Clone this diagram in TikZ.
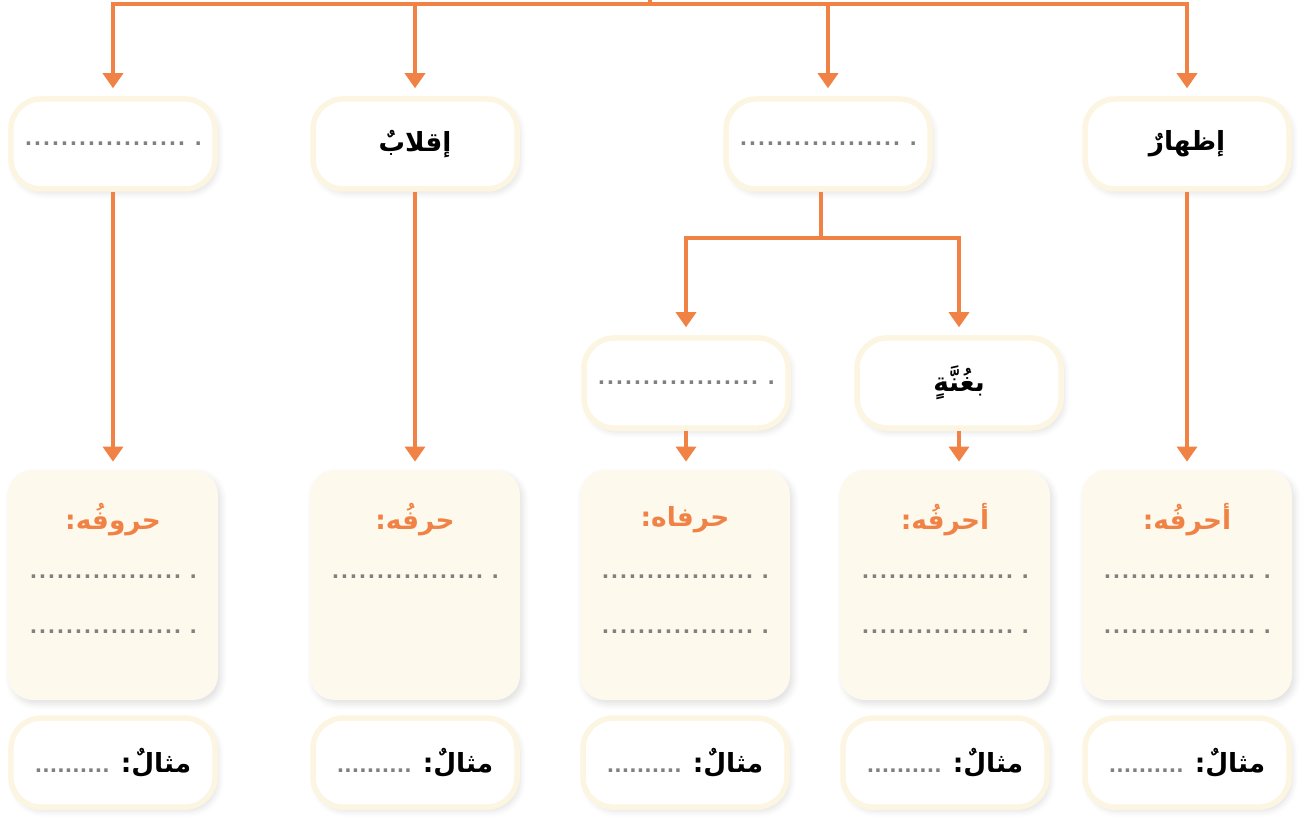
\documentclass[tikz,border=0pt]{standalone}
\usepackage{fontspec}
\newfontfamily\arabicfont[Script=Arabic]{DejaVu Sans}
\TeXXeTstate=1
\usetikzlibrary{positioning,arrows.meta,shadows.blur}
\definecolor{branchOrange}{RGB}{240,130,70}
\definecolor{creamLine}{RGB}{252,245,226}
\definecolor{creamFill}{RGB}{253,249,237}
\definecolor{dotGray}{RGB}{128,128,128}
\newcommand{\ar}[1]{\arabicfont\bfseries\beginR #1\endR}
\newcommand{\dotline}[1]{\hbox to #1{{\color{dotGray}\leaders\hbox to 1.8mm{\hss.\hss}\hfill\hskip 1.5mm.}}}
\newcommand{\shortdots}[1]{\hbox to #1{{\color{dotGray}\leaders\hbox to 1.5mm{\hss.\hss}\hfill}}}
\tikzset{
  conn/.style={draw=branchOrange, line width=1.9pt},
  arr/.style={conn, -{Triangle[width=4mm,length=3mm]}, shorten >=1.6mm},
  type box/.style={draw=creamLine, line width=1.1mm, fill=white, rounded corners=6mm,
    minimum width=40.8mm, minimum height=18mm,
    blur shadow={shadow xshift=0.6mm, shadow yshift=-0.8mm, shadow blur radius=1.2mm, shadow opacity=12}},
  letters box/.style={fill=creamFill, rounded corners=5mm, minimum width=42mm, minimum height=46mm,
    blur shadow={shadow xshift=0.6mm, shadow yshift=-0.8mm, shadow blur radius=1.2mm, shadow opacity=12}},
  example box/.style={type box, minimum height=17.8mm},
  word/.style={font=\fontsize{15}{18}\selectfont, text=black},
  heading/.style={font=\fontsize{15}{18}\selectfont, text=branchOrange},
  blank/.style={font=\arabicfont\bfseries\fontsize{11}{13}\selectfont, inner sep=0pt},
}
\begin{document}
\begin{tikzpicture}[x=0.2mm, y=-0.2mm]
  \useasboundingbox (0,0) rectangle (1301,820);

  \node[type box, blank] (ikhfa) at (113,144) {\dotline{35.6mm}};
  \node[type box, word] (iqlab) at (415,144) {\ar{إقلابٌ}};
  \node[type box, blank] (idgham) at (828,144) {\dotline{35.6mm}};
  \node[type box, word] (izhar) at (1187,144) {\ar{إظهارٌ}};

  \node[type box, blank] (noGhunna) at (686,383) {\dotline{35.6mm}};
  \node[type box, word] (withGhunna) at (959,383) {\ar{بغُنَّةٍ}};

  \foreach \name/\x/\head/\rows in {ikhfa/113/حروفُه:/2, iqlab/415/حرفُه:/1,
      noGhunna/685/حرفاه:/2, withGhunna/945/أحرفُه:/2, izhar/1187/أحرفُه:/2} {
    \node[letters box] (\name Letters) at (\x,585) {};
    \node[heading] (\name Head) at ([yshift=-10mm]\name Letters.north) {\ar{\head}};
    \node[blank] (\name DotsA) at ([yshift=-21.4mm]\name Letters.north) {\dotline{33.6mm}};
    \ifnum\rows>1
      \node[blank] (\name DotsB) at ([yshift=-32.4mm]\name Letters.north) {\dotline{33.6mm}};
    \fi
    \node[example box, word, below=3mm of \name Letters] (\name Example)
      {{\arabicfont\bfseries\fontsize{11}{13}\selectfont\shortdots{16mm}}\hskip 1.2mm\ar{مثالٌ:}};
  }

  \coordinate (root) at (650,0);
  \coordinate (bus) at (650,4);
  \coordinate (split) at (821,238);
  \draw[conn] (root) -- (bus);
  \foreach \b in {ikhfa, iqlab, idgham, izhar}
    \draw[arr] (bus) -| (\b.north);
  \foreach \b in {ikhfa, iqlab, izhar}
    \draw[arr] (\b.south) -- (\b Letters.north);
  \draw[conn] (idgham.south -| split) -- (split);
  \draw[arr] (split) -| (noGhunna.north);
  \draw[arr] (split) -| (withGhunna.north);
  \draw[arr] (noGhunna.south) -- (noGhunna.south |- noGhunnaLetters.north);
  \draw[arr] (withGhunna.south) -- (withGhunna.south |- withGhunnaLetters.north);
\end{tikzpicture}
\end{document}
